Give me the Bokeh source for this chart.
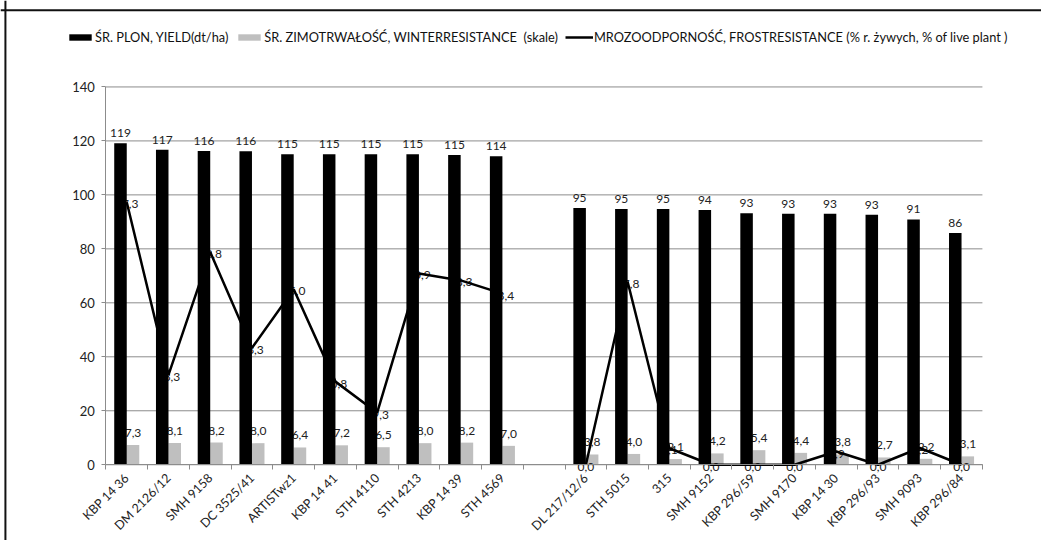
from bokeh.plotting import figure
from bokeh.models import (ColumnDataSource, FixedTicker, Legend, LegendItem,
                          Range1d, Span)
from bokeh.core.properties import value
from bokeh.embed import file_html
from bokeh.resources import INLINE
import math

# ---- data ----
varieties = ["KBP 14 36", "DM 2126/12", "SMH 9158", "DC 3525/41", "ARTISTwz1",
             "KBP 14 41", "STH 4110", "STH 4213", "KBP 14 39", "STH 4569",
             "",
             "DL 217/12/6", "STH 5015", "315", "SMH 9152", "KBP 296/59",
             "SMH 9170", "KBP 14 30", "KBP 296/93", "SMH 9093", "KBP 296/84"]
yield_dt = [119.1, 116.7, 116.3, 116.2, 115.1, 115.1, 115.1, 115.1, 114.8, 114.3,
            None,
            95.1, 94.8, 94.8, 94.4, 93.2, 93.0, 93.0, 92.6, 90.9, 85.9]
winter_res = [7.3, 8.1, 8.2, 8.0, 6.4, 7.2, 6.5, 8.0, 8.2, 7.0,
              None,
              3.8, 4.0, 2.1, 4.2, 5.4, 4.4, 3.8, 2.7, 2.2, 3.1]
frost_res = [97.3, 33.3, 78.8, 43.3, 65.0, 30.8, 19.3, 70.9, 68.3, 63.4,
             None,
             0.0, 67.8, 6.1, 0.0, 0.0, 0.0, 4.9, 0.0, 6.2, 0.0]
y_ticks = [0, 20, 40, 60, 80, 100, 120, 140]

FONT = "Lato"
BW = 0.30
W, H = 1041, 540
SX, SY = W / 1057, H / 556                 # reference -> canvas scale
X0_PX, X1_PX = 107 * SX, 997 * SX          # category axis extent (canvas px)
Y0_PX, Y140_PX = 478 * SY, 89 * SY         # value 0 and 140 (canvas px)
PX_X = (X1_PX - X0_PX) / len(varieties)
PX_Y = (Y0_PX - Y140_PX) / 140

def fmt_pl(v):
    return ("%.1f" % v).replace(".", ",")

idx = [i for i, v in enumerate(yield_dt) if v is not None]
centers = [i + 0.5 for i in idx]

src = ColumnDataSource(dict(
    xb=[c - BW / 2 for c in centers],
    xg=[c + BW / 2 for c in centers],
    xc=centers,
    y=[yield_dt[i] for i in idx],
    g=[winter_res[i] for i in idx],
    f=[frost_res[i] for i in idx],
    ylab=["%d" % round(yield_dt[i]) for i in idx],
    glab=[fmt_pl(winter_res[i]) for i in idx],
    flab=[fmt_pl(frost_res[i]) for i in idx],
))

xr = Range1d(-X0_PX / PX_X, (W - X0_PX) / PX_X)
yr = Range1d(-(H - Y0_PX) / PX_Y, Y0_PX / PX_Y)

p = figure(width=W, height=H, output_backend="svg", toolbar_location=None,
           x_range=xr, y_range=yr, min_border=0)
p.outline_line_color = None
p.background_fill_color = "white"
p.border_fill_color = "white"
p.xgrid.visible = False
p.ygrid.visible = False

# horizontal grid lines across the categories only
p.segment(x0=0, x1=len(varieties), y0=y_ticks, y1=y_ticks,
          line_color="#8c8c8c", line_width=1)

# y axis, fixed at x=0
ya = p.yaxis[0]
ya.fixed_location = 0
ya.bounds = (0, 140)
ya.ticker = FixedTicker(ticks=y_ticks)
ya.axis_line_color = "#8c8c8c"
ya.major_tick_line_color = "#8c8c8c"
ya.major_tick_out = 4
ya.major_tick_in = 0
ya.minor_tick_line_color = None
ya.major_label_text_font = FONT
ya.major_label_text_font_size = "13px"
ya.major_label_text_color = "#222222"
ya.major_label_standoff = 7

# x axis, fixed at y=0: labels at centres, tick marks at category boundaries
xa = p.xaxis[0]
xa.fixed_location = 0
xa.bounds = (0, len(varieties))
xa.ticker = FixedTicker(ticks=[i + 0.5 for i in range(len(varieties))],
                        minor_ticks=list(range(len(varieties) + 1)))
xa.major_label_overrides = {i + 0.5: v for i, v in enumerate(varieties)}
xa.axis_line_color = "#8c8c8c"
xa.major_tick_line_color = None
xa.minor_tick_line_color = "#8c8c8c"
xa.minor_tick_out = 5
xa.minor_tick_in = 0
xa.major_label_orientation = math.pi / 4
xa.major_label_text_font = FONT
xa.major_label_text_font_size = "12.5px"
xa.major_label_text_color = "#222222"
xa.major_label_standoff = 5

# gray bars
rg = p.vbar(x="xg", top="g", width=BW, source=src, fill_color="#bfbfbf",
            line_color=None)
# labels that sit under the black bars
p.text(x="xg", y="g", text="glab", source=src, text_font=value(FONT),
       text_font_size="12px", text_color="#222222", text_align="center",
       text_baseline="bottom", y_offset=-8)
p.text(x="xc", y="f", text="flab", source=src, text_font=value(FONT),
       text_font_size="12px", text_color="#222222", text_align="center",
       text_baseline="middle", y_offset=2)
# black bars
rb = p.vbar(x="xb", top="y", width=BW, source=src, fill_color="black",
            line_color=None)
# frost line (two segments, gap at the empty category)
left_n = 10
rl = p.line(x=centers[:left_n], y=[frost_res[i] for i in idx[:left_n]],
            line_color="black", line_width=2.5)
p.line(x=centers[left_n:], y=[frost_res[i] for i in idx[left_n:]],
       line_color="black", line_width=2.5)
p.text(x="xb", y="y", text="ylab", source=src, text_font=value(FONT),
       text_font_size="12px", text_color="#222222", text_align="center",
       text_baseline="bottom", y_offset=-6)

# chart border (top and left edges)
p.add_layout(Span(location=yr.end - 10 * SY / PX_Y, dimension="width",
                  line_color="#111111", line_width=2))
p.add_layout(Span(location=xr.start + 5 * SX / PX_X, dimension="height",
                  line_color="#111111", line_width=2))

legend = Legend(items=[
    LegendItem(label="ŚR. PLON, YIELD(dt/ha)", renderers=[rb]),
    LegendItem(label="ŚR. ZIMOTRWAŁOŚĆ, WINTERRESISTANCE  (skale)", renderers=[rg]),
    LegendItem(label="MROZOODPORNOŚĆ, FROSTRESISTANCE (% r. żywych, % of live plant )", renderers=[rl]),
], orientation="horizontal", location=(round(67 * SX), round(H - 46 * SY)),
    padding=0, margin=0, spacing=7, glyph_width=28, glyph_height=8,
    label_height=14, label_standoff=1, label_text_font=FONT,
    label_text_font_size="12.8px", label_text_color="#111111",
    border_line_color=None, background_fill_alpha=0)
p.add_layout(legend, "center")

open("out.html", "w").write(file_html(p, INLINE))
